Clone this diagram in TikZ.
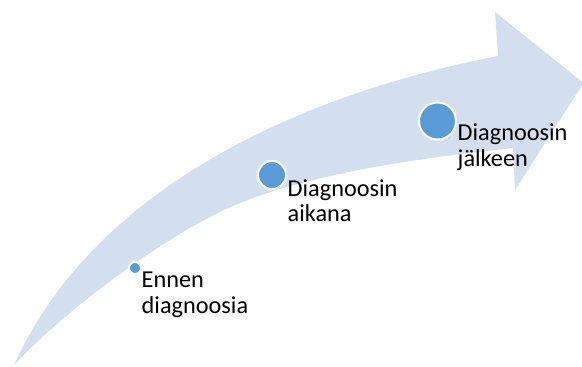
\documentclass[tikz,border=0pt]{standalone}
\usepackage{fontspec}
\setmainfont{Carlito}
\usepackage{tikz}

\definecolor{arrowfill}{HTML}{D3DEEF}
\definecolor{dotblue}{HTML}{5B9BD5}

\tikzset{
	stagedot/.style={shape=circle,fill=dotblue,draw=white,line width=2pt,inner sep=0pt},
	stagelabel/.style={anchor=base west,align=left,inner sep=0pt,font=\fontsize{24.3}{25.3}\selectfont}
}

\begin{document}
\begin{tikzpicture}[x=1pt,y=-1pt]
	
	\useasboundingbox (0,0) rectangle (582,367);
	
	% curved arrow
	\fill[arrowfill] (14,365) .. controls (94,189) and (297,95) .. (498,56)
		-- (495,12) -- (583.5,83) -- (515,190) -- (513,148)
		.. controls (430,157) and (320,171) .. (240,203)
		.. controls (170,231) and (64,311) .. (14,365) -- cycle;
	
	\node[stagedot,minimum size=12pt] (a) at (135, 268) {};
	\node[stagedot,minimum size=28pt] (b) at (272, 175) {};
	\node[stagedot,minimum size=37pt] (c) at (437.5, 121) {};
	
	% anchored at the last line
	\node[stagelabel] (d) at (141.5, 313) {Ennen\\diagnoosia};
	\node[stagelabel] (e) at (287.5, 221.5) {Diagnoosin\\aikana};
	\node[stagelabel] (f) at (457.5, 166) {Diagnoosin\\jälkeen};

\end{tikzpicture}
\end{document}
